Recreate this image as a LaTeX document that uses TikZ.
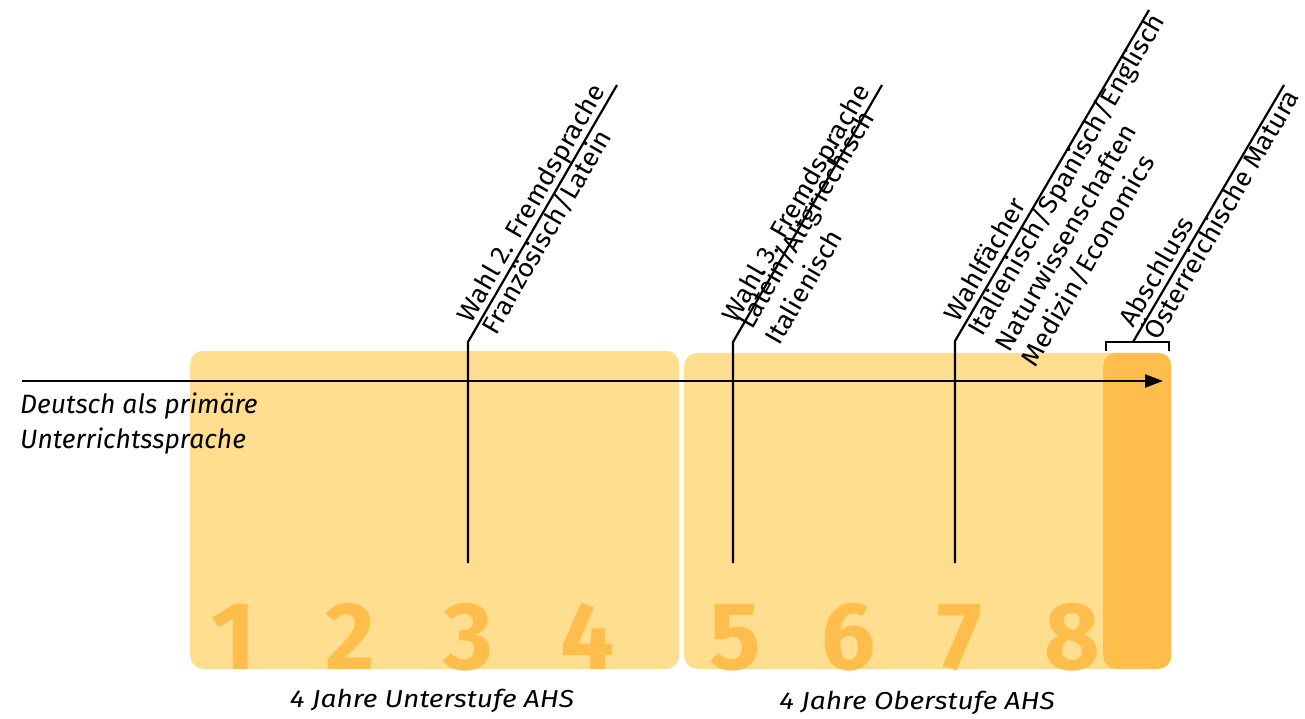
\documentclass[tikz,border=0pt]{standalone}
\usepackage{fontspec}
\setmainfont{Fira Sans}
\newfontfamily\lblfont{Fira Sans}[FakeStretch=1.04]
\newfontfamily\botfont{Fira Sans}[FakeStretch=1.15]
\usetikzlibrary{arrows.meta}
\definecolor{boxlight}{RGB}{255,223,143}
\definecolor{boxdark}{RGB}{255,190,75}
\begin{document}
\begin{tikzpicture}[x=1pt,y=1pt,
  box/.style={fill=#1, rounded corners=13pt, anchor=south west, inner sep=0pt, minimum height=316pt},
  leader/.style={line width=2.2pt, line join=miter},
  lbl/.style={rotate=60, anchor=base west, inner sep=0pt, font=\lblfont\fontsize{26}{30}\selectfont},
  digit/.style={anchor=base, inner sep=0pt, text=boxdark, font=\fontsize{96}{96}\selectfont\bfseries},
  itxt/.style={inner sep=0pt, font=\fontsize{26.5}{31}\selectfont\itshape},
  btxt/.style={inner sep=0pt, anchor=base, font=\botfont\fontsize{24.5}{30}\selectfont\itshape}]
\useasboundingbox (0,0) rectangle (1305,718);
% boxes
\node[box=boxlight, minimum width=489pt, minimum height=318pt] (box1) at (190,49) {};
\node[box=boxlight, minimum width=487pt] (box2) at (684,49) {};
\node[box=boxdark, minimum width=68pt] (dark) at (1103,49) {};
% digits
\node[digit] (d1) at (234,49) {1};
\node[digit] (d2) at (350,49) {2};
\node[digit] (d3) at (468,49) {3};
\node[digit] (d4) at (588,49) {4};
\node[digit] (d5) at (735,49) {5};
\node[digit] (d6) at (849,49) {6};
\node[digit] (d7) at (960,49) {7};
\node[digit] (d8) at (1072,49) {8};
% main arrow
\coordinate (astart) at (22,337);
\coordinate (aend) at (1163,337);
\draw[line width=2.4pt, -{Triangle[length=18pt,width=13pt]}] (astart) -- (aend);
% leaders
\coordinate (l1b) at (468,155); \coordinate (l1m) at (468,376); \coordinate (l1e) at (617,633);
\coordinate (l2b) at (733,155); \coordinate (l2m) at (733,376); \coordinate (l2e) at (882,633);
\coordinate (l3b) at (955,155); \coordinate (l3m) at (955,377); \coordinate (l3e) at (1149,708);
\draw[leader] (l1b) -- (l1m) -- (l1e);
\draw[leader] (l2b) -- (l2m) -- (l2e);
\draw[leader] (l3b) -- (l3m) -- (l3e);
% bracket
\coordinate (brl) at (1106,367); \coordinate (brlt) at (1106,376);
\coordinate (brrt) at (1169,376); \coordinate (brr) at (1169,367);
\coordinate (brm) at (1133,376); \coordinate (bre) at (1284,633);
\draw[leader] (brl) -- (brlt) -- (brrt) -- (brr);
\draw[leader] (brm) -- (bre);
% labels
\begin{scope}[shift={(l1m)}, rotate=60]
  \node[lbl] (t1a) at (17,6) {Wahl 2. Fremdsprache};
  \node[lbl] (t1b) at (19,-22) {Französisch/Latein};
\end{scope}
\begin{scope}[shift={(l2m)}, rotate=60]
  \node[lbl] (t2a) at (17,6) {Wahl 3. Fremdsprache};
  \node[lbl] (t2b) at (19,-11) {Latein/Altgriechisch};
  \node[lbl] (t2c) at (19,-43) {Italienisch};
\end{scope}
\begin{scope}[shift={(l3m)}, rotate=60]
  \node[lbl] (t3a) at (17,6) {Wahlfächer};
  \node[lbl] (t3b) at (16,-22) {Italienisch/Spanisch/Englisch};
  \node[lbl] (t3c) at (16,-53) {Naturwissenschaften};
  \node[lbl] (t3d) at (16,-84) {Medizin/Economics};
\end{scope}
\begin{scope}[shift={(brm)}, rotate=60]
  \node[lbl] (t4a) at (12,6) {Abschluss};
  \node[lbl] (t4b) at (13,-22) {Österreichische Matura};
\end{scope}
% left text
\node[itxt, anchor=base west] (lt1) at (20,305) {Deutsch als primäre};
\node[itxt, anchor=base west] (lt2) at (20,270) {Unterrichtssprache};
% bottom text
\node[btxt] (bt1) at (432,11) {4 Jahre Unterstufe AHS};
\node[btxt] (bt2) at (917,9) {4 Jahre Oberstufe AHS};
\end{tikzpicture}
\end{document}
